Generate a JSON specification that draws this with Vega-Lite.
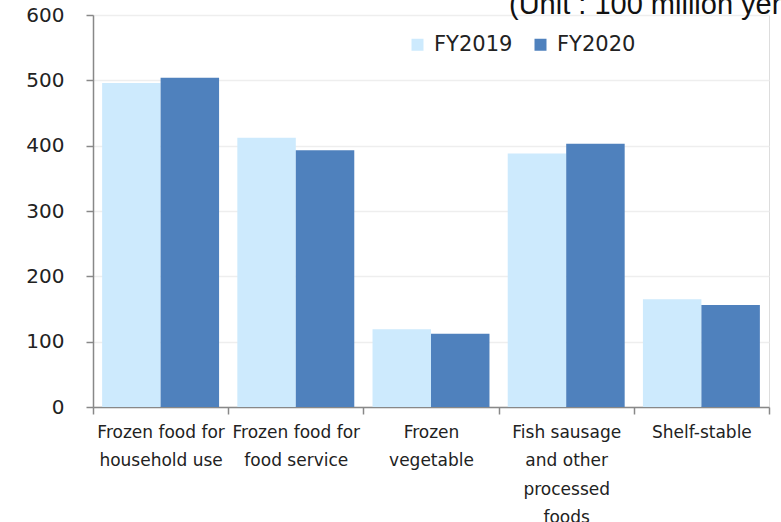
{
  "$schema": "https://vega.github.io/schema/vega-lite/v6.json",
  "width": 676,
  "height": 392,
  "autosize": {"type": "none"},
  "padding": {"left": 93, "top": 15, "right": 12, "bottom": 115},
  "background": "white",
  "title": {
    "text": "(Unit : 100 million yen)",
    "anchor": "start",
    "frame": "group",
    "align": "left",
    "dx": 416,
    "offset": -37.5,
    "baseline": "alphabetic",
    "font": "Liberation Sans",
    "fontSize": 29,
    "fontWeight": "normal",
    "color": "#111111"
  },
  "data": {
    "values": [
      {"category": "Frozen food for household use", "year": "FY2019", "sales": 496},
      {"category": "Frozen food for household use", "year": "FY2020", "sales": 504},
      {"category": "Frozen food for food service", "year": "FY2019", "sales": 412},
      {"category": "Frozen food for food service", "year": "FY2020", "sales": 393},
      {"category": "Frozen vegetable", "year": "FY2019", "sales": 119},
      {"category": "Frozen vegetable", "year": "FY2020", "sales": 112},
      {"category": "Fish sausage and other processed foods", "year": "FY2019", "sales": 388},
      {"category": "Fish sausage and other processed foods", "year": "FY2020", "sales": 403},
      {"category": "Shelf-stable", "year": "FY2019", "sales": 165},
      {"category": "Shelf-stable", "year": "FY2020", "sales": 156}
    ]
  },
  "mark": {"type": "bar"},
  "encoding": {
    "x": {
      "field": "category",
      "type": "nominal",
      "sort": null,
      "scale": {"paddingInner": 0, "paddingOuter": 0},
      "axis": {
        "title": null,
        "labelAngle": 0,
        "tickBand": "extent",
        "tickSize": 7,
        "tickWidth": 1.5,
        "tickColor": "#888888",
        "domainColor": "#888888",
        "domainWidth": 1.5,
        "grid": false,
        "labelFont": "DejaVu Sans",
        "labelFontSize": 17,
        "labelColor": "#222222",
        "labelLineHeight": 28.5,
        "labelPadding": 10,
        "labelLimit": 300,
        "labelOverlap": false,
        "labelExpr": "{'Frozen food for household use': ['Frozen food for', 'household use'], 'Frozen food for food service': ['Frozen food for', 'food service'], 'Frozen vegetable': ['Frozen', 'vegetable'], 'Fish sausage and other processed foods': ['Fish sausage', 'and other', 'processed', 'foods'], 'Shelf-stable': ['Shelf-stable']}[datum.value]"
      }
    },
    "xOffset": {
      "field": "year",
      "type": "nominal",
      "scale": {"paddingInner": 0, "paddingOuter": 0.156}
    },
    "y": {
      "field": "sales",
      "type": "quantitative",
      "scale": {"domain": [0, 600], "nice": false},
      "axis": {
        "title": null,
        "values": [0, 100, 200, 300, 400, 500, 600],
        "grid": true,
        "gridColor": "#eeeeee",
        "gridWidth": 1.5,
        "domainColor": "#888888",
        "domainWidth": 1.5,
        "tickColor": "#888888",
        "tickSize": 7,
        "tickWidth": 1.5,
        "labelFont": "DejaVu Sans",
        "labelFontSize": 20,
        "labelColor": "#222222",
        "labelPadding": 22
      }
    },
    "color": {
      "field": "year",
      "type": "nominal",
      "scale": {"domain": ["FY2019", "FY2020"], "range": ["#cdeafd", "#4f81bd"]},
      "legend": {
        "title": null,
        "orient": "none",
        "legendX": 314,
        "legendY": 19,
        "direction": "horizontal",
        "symbolType": "square",
        "symbolSize": 144,
        "symbolStrokeWidth": 0,
        "labelFont": "DejaVu Sans",
        "labelFontSize": 21,
        "labelColor": "#222222",
        "labelOffset": 6,
        "columnPadding": 17,
        "padding": 0
      }
    }
  }
}
